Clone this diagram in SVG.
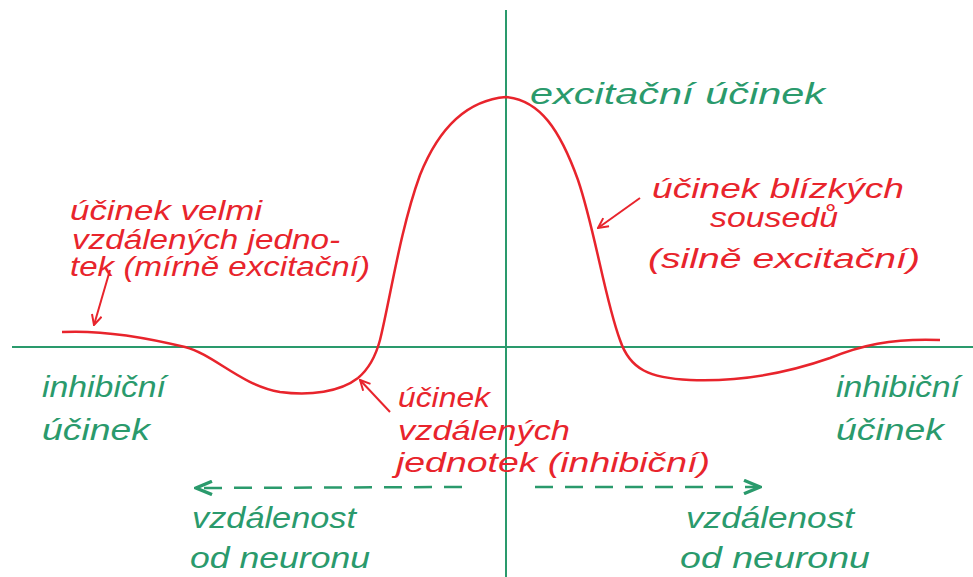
<svg xmlns="http://www.w3.org/2000/svg" width="973" height="577" viewBox="0 0 973 577">
<defs>
<style>
.r{fill:#e8242c;font-family:"Liberation Sans",sans-serif;font-style:italic;font-size:27px}
.g{fill:#2a9a6c;font-family:"Liberation Sans",sans-serif;font-style:italic;font-size:29px}
.ax{stroke:#2a9a6c;stroke-width:2;fill:none}
.cv{stroke:#e8242c;stroke-width:2.5;fill:none}
.pt{stroke:#e8242c;stroke-width:2;fill:none}
.da{stroke:#2a9a6c;stroke-width:2.5;fill:none;stroke-dasharray:18 12}
</style>
<marker id="ar" viewBox="0 0 12 12" refX="11" refY="6" markerWidth="12" markerHeight="12" markerUnits="userSpaceOnUse" orient="auto">
<path d="M1,1 L11,6 L1,11" stroke="#e8242c" stroke-width="2" fill="none"/>
</marker>
<marker id="ag" viewBox="0 0 14 12" refX="13" refY="6" markerWidth="20" markerHeight="16" markerUnits="userSpaceOnUse" orient="auto">
<path d="M1,1 L13,6 L1,11" stroke="#2a9a6c" stroke-width="2.5" fill="none"/>
</marker>
</defs>
<rect width="973" height="577" fill="#ffffff"/>
<g id="axes">
<line class="ax" x1="506" y1="10" x2="506" y2="577"/>
<line class="ax" x1="12" y1="347" x2="973" y2="347"/>
</g>
<g id="curve">
<path class="cv" d="M62,332 C100,330 140,336 185,347 C215,355 240,385 280,392 C310,396 340,392 358,378 C370,368 376,355 380,340 C390,300 400,230 420,175 C440,125 470,100 506,97 C540,100 560,130 578,180 C595,230 605,300 620,340 C630,370 650,378 690,380 C740,382 790,372 830,358 C860,346 890,338 940,340"/>
</g>
<g id="connectors">
<line class="pt" x1="110" y1="270" x2="94" y2="325" marker-end="url(#ar)"/>
<line class="pt" x1="640" y1="198" x2="598" y2="228" marker-end="url(#ar)"/>
<line class="pt" x1="390" y1="412" x2="360" y2="380" marker-end="url(#ar)"/>
<line class="da" x1="462" y1="487" x2="196" y2="488" marker-end="url(#ag)"/>
<line class="da" x1="535" y1="487" x2="760" y2="487" marker-end="url(#ag)"/>
</g>
<g id="label-excitacni">
<text class="g" x="530" y="104" textLength="295" lengthAdjust="spacingAndGlyphs">excitační účinek</text>
</g>
<g id="label-velmi-vzdalenych">
<text class="r" x="70" y="220" textLength="192" lengthAdjust="spacingAndGlyphs">účinek velmi</text>
<text class="r" x="72" y="249" textLength="268" lengthAdjust="spacingAndGlyphs">vzdálených jedno-</text>
<text class="r" x="70" y="276" textLength="300" lengthAdjust="spacingAndGlyphs">tek (mírně excitační)</text>
</g>
<g id="label-blizkych">
<text class="r" x="652" y="198" textLength="252" lengthAdjust="spacingAndGlyphs">účinek blízkých</text>
<text class="r" x="710" y="227" textLength="128" lengthAdjust="spacingAndGlyphs">sousedů</text>
<text class="r" x="648" y="268" textLength="272" lengthAdjust="spacingAndGlyphs">(silně excitační)</text>
</g>
<g id="label-vzdalenych">
<text class="r" x="398" y="407" textLength="92" lengthAdjust="spacingAndGlyphs">účinek</text>
<text class="r" x="398" y="440" textLength="172" lengthAdjust="spacingAndGlyphs">vzdálených</text>
<text class="r" x="396" y="472" textLength="314" lengthAdjust="spacingAndGlyphs">jednotek (inhibiční)</text>
</g>
<g id="label-inhib-left">
<text class="g" x="42" y="397" textLength="124" lengthAdjust="spacingAndGlyphs">inhibiční</text>
<text class="g" x="42" y="440" textLength="108" lengthAdjust="spacingAndGlyphs">účinek</text>
</g>
<g id="label-inhib-right">
<text class="g" x="836" y="397" textLength="124" lengthAdjust="spacingAndGlyphs">inhibiční</text>
<text class="g" x="836" y="440" textLength="108" lengthAdjust="spacingAndGlyphs">účinek</text>
</g>
<g id="label-dist-left">
<text class="g" x="192" y="528" textLength="164" lengthAdjust="spacingAndGlyphs">vzdálenost</text>
<text class="g" x="190" y="568" textLength="180" lengthAdjust="spacingAndGlyphs">od neuronu</text>
</g>
<g id="label-dist-right">
<text class="g" x="686" y="528" textLength="168" lengthAdjust="spacingAndGlyphs">vzdálenost</text>
<text class="g" x="680" y="568" textLength="190" lengthAdjust="spacingAndGlyphs">od neuronu</text>
</g>
</svg>
